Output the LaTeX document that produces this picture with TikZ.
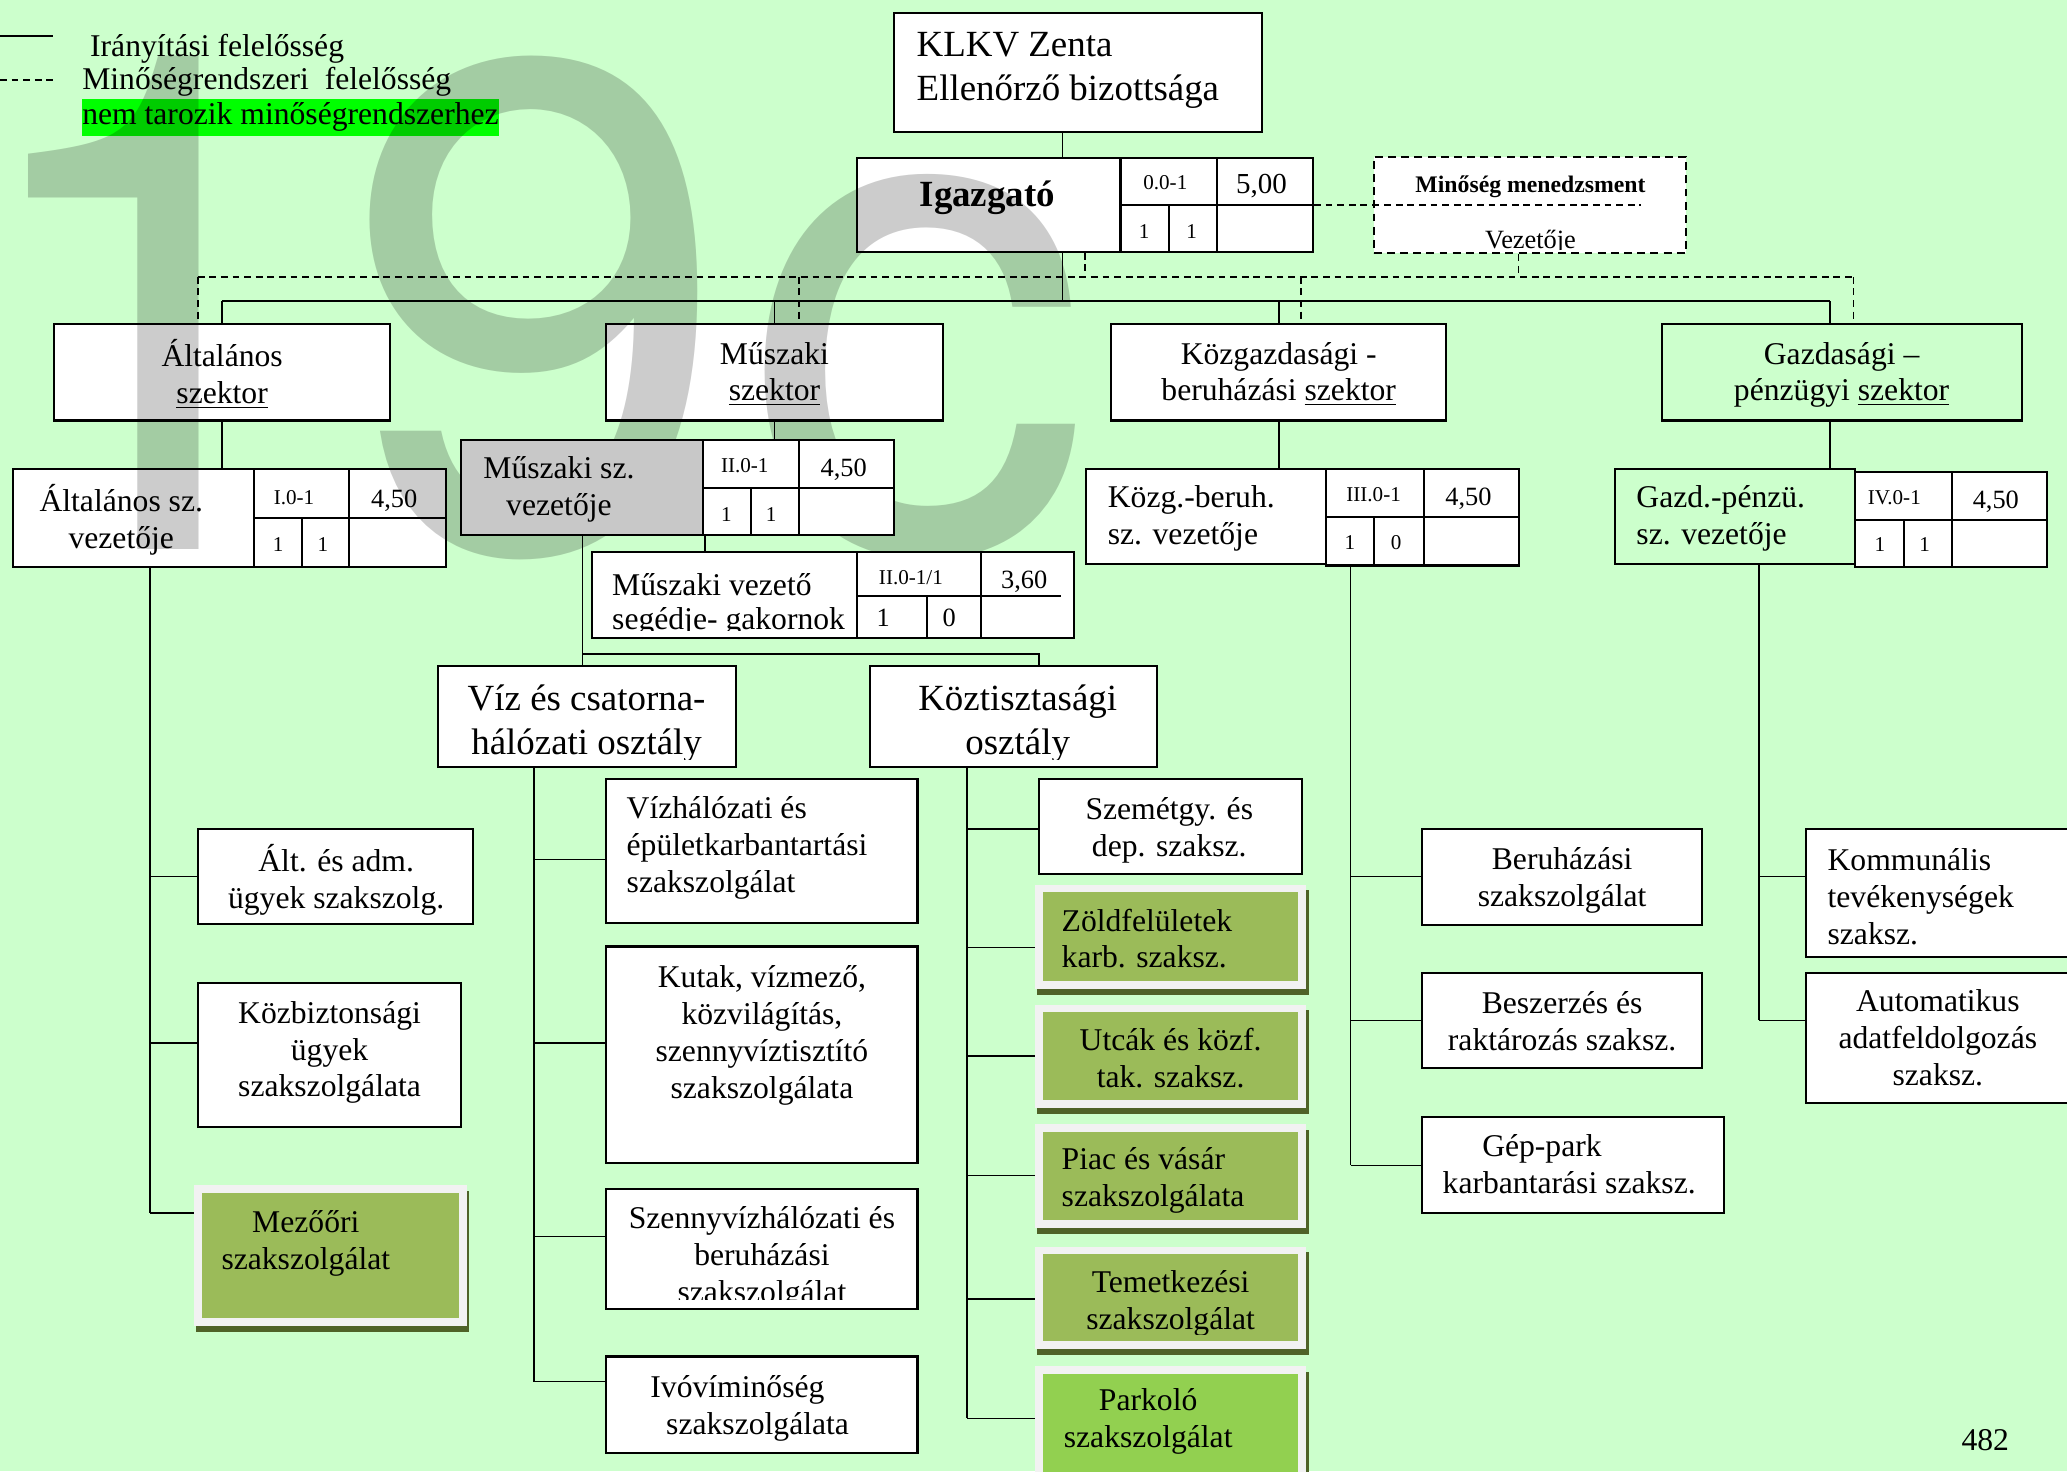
\documentclass[tikz,border=0pt]{standalone}
\usepackage{fontspec}
\setmainfont{Liberation Serif}
\newfontfamily\wmfont{TeX Gyre Heros}
\usetikzlibrary{fit}
\definecolor{cBg}{HTML}{CCFFCC}
\definecolor{cHl}{HTML}{00FF00}
\definecolor{cOlive}{HTML}{9BBB59}
\definecolor{cPark}{HTML}{92D050}
\definecolor{cFrame}{HTML}{F2F2F2}
\definecolor{cShade}{HTML}{4F6228}
\definecolor{cCell}{HTML}{C8C8C8}
\tikzset{
 box/.style={draw, line width=0.8pt, fill=white, inner sep=0pt},
 openbox/.style={draw, line width=0.8pt, inner sep=0pt},
 dbox/.style={draw, line width=0.8pt, fill=white, inner sep=0pt, dash pattern=on 3pt off 2pt},
 gbox/.style={draw=cFrame, line width=3pt, fill=cOlive, inner sep=0pt, preaction={draw=cShade, fill=cShade, transform canvas={shift={(1pt,-2.2pt)}}}},
 ln/.style={line width=0.6pt},
 dl/.style={line width=0.6pt, dash pattern=on 2.6pt off 1.8pt},
 tx/.style={inner sep=0pt, align=center, yshift=-1.5pt, execute at begin node=\strut, execute at end node=\strut},
 t12/.style={tx, font=\fontsize{12}{14}\selectfont},
 t14/.style={tx, font=\fontsize{14}{16.5}\selectfont},
 code/.style={tx, font=\fontsize{8}{9.2}\selectfont},
 val/.style={tx, font=\fontsize{10}{11.5}\selectfont},
}
\begin{document}
\begin{tikzpicture}[x=0.5pt,y=-0.5pt]
\useasboundingbox (0,0) rectangle (1568,1116);
\clip (0,0) rectangle (1568,1116);
\fill[cBg] (0,0) rectangle (1568,1116);

% ---------- legend
\coordinate (lg1a) at (0,27.5); \coordinate (lg1b) at (40.5,27.5);
\coordinate (lg2a) at (0,60.5); \coordinate (lg2b) at (40.5,60.5);
\draw[ln] (lg1a) -- (lg1b);
\draw[dl] (lg2a) -- (lg2b);
\node[t12, anchor=west] (lgt1) at (68,34) {Irányítási felelősség};
\node[t12, anchor=west] (lgt2) at (62,59) {Minőségrendszeri\ \ felelősség};
\node[t12, anchor=west, fill=cHl, yshift=0.6pt] (lgt3) at (62,87) {nem tarozik minőségrendszerhez};

% ---------- named points
\coordinate (topx) at (806,0);
\coordinate (busS) at (0,228.5);
\coordinate (busD) at (0,210);
\coordinate (mx) at (442,496);
\coordinate (vb1) at (405,652); \coordinate (vb2) at (405,791);
\coordinate (vb3) at (405,938); \coordinate (vb4) at (405,1048);
\coordinate (kb1) at (733.5,629); \coordinate (kb2) at (733.5,718.6);
\coordinate (kb3) at (733.5,801); \coordinate (kb4) at (733.5,891.7);
\coordinate (kb5) at (733.5,985.5); \coordinate (kb6) at (733.5,1076);
\coordinate (ab1) at (114,665); \coordinate (ab2) at (114,791); \coordinate (ab3) at (114,920);
\coordinate (cb1) at (1024.5,665); \coordinate (cb2) at (1024.5,774); \coordinate (cb3) at (1024.5,884);
\coordinate (db1) at (1334.5,665); \coordinate (db2) at (1334.5,774);
\coordinate (mdiv) at (1245,155.5);

% ---------- top boxes
\node[box, fit={(678,10) (957,100)}] (klkv) {};
\node[dbox, fit={(1042,119) (1279,192)}] (minoseg) {};
\node[box, fit={(41,246) (296,319)}] (secA) {};
\node[box, fit={(460,246) (715,319)}] (secB) {};
\node[box, fit={(843,246) (1097,319)}] (secC) {};
\node[openbox, fit={(1261,246) (1534,319)}] (secD) {};

% ---------- connectors
\draw[ln] (topx |- klkv.south) -- (topx |- busS);
\draw[ln] (secA.north |- busS) -- ([xshift=-4.75pt]secD.north |- busS);
\draw[ln] (secA.north |- busS) -- (secA.north);
\draw[ln] (secB.north |- busS) -- (secB.north);
\draw[ln] (secC.north |- busS) -- (secC.north);
\draw[ln] ([xshift=-4.75pt]secD.north |- busS) -- ([xshift=-4.75pt]secD.north);
\draw[dl] ([xshift=-9.25pt]secA.north |- busD) -- ([xshift=4.25pt]secD.north |- busD);
\draw[dl] ([xshift=-9.25pt]secA.north |- busD) -- ([xshift=-9.25pt]secA.north);
\draw[dl] ([xshift=9.25pt]secB.north |- busD) -- ([xshift=9.25pt]secB.north);
\draw[dl] ([xshift=8.5pt]secC.north |- busD) -- ([xshift=8.5pt]secC.north);
\draw[dl] ([xshift=4.25pt]secD.north |- busD) -- ([xshift=4.25pt]secD.north);
\draw[dl] ([xshift=-4.25pt]minoseg.south) -- ([xshift=-4.25pt]minoseg.south |- busD);
\draw[dl] (minoseg.west) -- (mdiv);

\node[box, fit={(650,120) (996,191)}] (igaz) {};
\draw[dl] (igaz.south) -- (igaz.south |- busD);
\draw[dl] (igaz.east) -- (minoseg.west);

% leaders
\node[box, fit={(10,356) (193,430)}] (vezA) {};
\node[box, fit={(193,356) (338,430)}] (gridA) {};
\node[fit={(350,334) (533,406)}, inner sep=0pt] (vezBph) {};
\node[box, fit={(824,356) (1006,428)}] (vezC) {};
\node[box, fit={(1006,356) (1152,429)}] (gridC) {};
\node[openbox, fit={(1225,356) (1407,428)}] (vezD) {};
\node[box, fit={(1407,358) (1553,430)}] (gridD) {};

\draw[ln] (secA.south) -- (secA.south |- vezA.north);
\draw[ln] (secB.south) -- (secB.south |- vezBph.north);
\draw[ln] (secC.south) -- (secC.south |- vezC.north);
\draw[ln] ([xshift=-4.75pt]secD.south) -- ([xshift=-4.75pt]secD.south |- vezD.north);

% Muszaki chain
\node[box, fit={(332,505) (558,582)}] (viz) {};
\node[box, fit={(660,505) (878,582)}] (kozt) {};
\draw[ln] (mx |- vezBph.south) -- (mx |- viz.north);
\draw[ln] (mx) -| ([xshift=9.5pt]kozt.north);
\coordinate (sgx) at (535,0);
\draw[ln] (sgx |- vezBph.south) -- (535,419);

% children
\node[box, fit={(460,591) (696,700)}] (v1) {};
\node[box, fit={(460,718) (696,882)}] (v2) {};
\node[box, fit={(460,902) (696,993)}] (v3) {};
\node[box, fit={(460,1029) (696,1102)}] (v4) {};
\draw[ln] (viz.south -| vb1) -- (vb4);
\foreach \b/\n in {vb1/v1, vb2/v2, vb3/v3, vb4/v4} \draw[ln] (\b) -- (\n.west |- \b);

\node[box, fit={(788,591) (988,663)}] (k1) {};
\node[gbox, fit={(788,674) (988,747)}] (k2) {};
\node[gbox, fit={(788,765) (988,837.6)}] (k3) {};
\node[gbox, fit={(788,856) (988,928.6)}] (k4) {};
\node[gbox, fit={(788,948.6) (988,1020.5)}] (k5) {};
\node[gbox, fill=cPark, fit={(788,1039) (988,1127)}] (k6) {};
\draw[ln] (kozt.south -| kb1) -- (kb6);
\foreach \b/\n in {kb1/k1, kb2/k2, kb3/k3, kb4/k4, kb5/k5, kb6/k6} \draw[ln] (\b) -- (\n.west |- \b);

\node[box, fit={(150,629) (359,701)}] (a1) {};
\node[box, fit={(150,746) (350,855)}] (a2) {};
\node[gbox, fit={(150,902) (351,1003)}] (a3) {};
\draw[ln] (vezA.south -| ab1) -- (ab3);
\foreach \b/\n in {ab1/a1, ab2/a2, ab3/a3} \draw[ln] (\b) -- (\n.west |- \b);

\node[box, fit={(1079,629) (1291,702)}] (c1) {};
\node[box, fit={(1079,738) (1291,810)}] (c2) {};
\node[box, fit={(1079,847) (1308,920)}] (c3) {};
\draw[ln] (gridC.south -| cb1) -- (cb3);
\foreach \b/\n in {cb1/c1, cb2/c2, cb3/c3} \draw[ln] (\b) -- (\n.west |- \b);

\node[box, fit={(1370,629) (1590,726)}] (d1) {};
\node[box, fit={(1370,738) (1590,837)}] (d2) {};
\draw[ln] (vezD.south -| db1) -- (db2);
\foreach \b/\n in {db1/d1, db2/d2} \draw[ln] (\b) -- (\n.west |- \b);

% ---------- table dividers
\draw[line width=0.8pt] (850,120) -- (850,191) (850,155.5) -- (996,155.5) (886.5,155.5) -- (886.5,191) (923,120) -- (923,191);
\draw[line width=0.8pt] (193,393) -- (338,393) (229,393) -- (229,430) (265,356) -- (265,430);
\draw[line width=0.8pt] (1006,392) -- (1152,392) (1042.5,392) -- (1042.5,429) (1080,356) -- (1080,429);
\draw[line width=0.8pt] (1407,394.5) -- (1553,394.5) (1444,394.5) -- (1444,430) (1481,358) -- (1481,430);

% ---------- texts
\node[t14, align=left, anchor=west] (klkvt) at (695,52.5) {KLKV Zenta\\Ellenőrző bizottsága};
\node[tx, font=\fontsize{14}{16.5}\selectfont\bfseries] (igazt) at (749,147) {Igazgató};
\node[code] (igc1) at (884,137) {0.0-1};
\node[tx, font=\fontsize{11}{12.6}\selectfont] (igc2) at (957,139) {5,00};
\node[code] (igc3) at (868,174) {1};
\node[code] (igc4) at (904,174) {1};
\node[tx, font=\fontsize{9}{10.4}\selectfont\bfseries] (mmt) at (1161,139) {Minőség menedzsment};
\begin{scope}
\clip (1043,157) rectangle (1278,189);
\node[val] (mvt) at (1161,181) {Vezetője};
\end{scope}

\node[t12] (secAt) at (168.5,283) {Általános\\\underline{szektor}};
\node[t12] (secBt) at (587.5,283) {Műszaki\\\underline{szektor}};
\node[t12] (secCt) at (970,283) {Közgazdasági -\\beruházási \underline{szektor}};
\node[t12] (secDt) at (1397,283) {Gazdasági –\\pénzügyi \underline{szektor}};

\node[t12] (vezAt) at (92,393) {Általános sz.\\vezetője};
\node[code] (ga1) at (223,376) {I.0-1};
\node[val] (ga2) at (299,377) {4,50};
\node[code] (ga3) at (211,412) {1};
\node[code] (ga4) at (245,412) {1};

\node[t12, align=left, anchor=west] (vezCt) at (840,392) {Közg.-beruh.\\sz. vezetője};
\node[code] (gc1) at (1042,374) {III.0-1};
\node[val] (gc2) at (1114,376) {4,50};
\node[code] (gc3) at (1024,410) {1};
\node[code] (gc4) at (1059,410) {0};

\node[t12, align=left, anchor=west] (vezDt) at (1241,392) {Gazd.-pénzü.\\sz. vezetője};
\node[code] (gd1) at (1437,376) {IV.0-1};
\node[val] (gd2) at (1514,378) {4,50};
\node[code] (gd3) at (1426,412) {1};
\node[code] (gd4) at (1460,412) {1};

\begin{scope}
\clip (332,505) rectangle (558,576);
\node[t14] (vizt) at (445,548) {Víz és csatorna-\\hálózati osztály};
\end{scope}
\begin{scope}
\clip (660,505) rectangle (878,576);
\node[t14] (koztt) at (772,548) {Köztisztasági\\osztály};
\end{scope}

\node[t12, align=left, anchor=west] (v1t) at (475,642) {Vízhálózati és\\épületkarbantartási\\szakszolgálat};
\node[t12] (v2t) at (578,784) {Kutak, vízmező,\\közvilágítás,\\szennyvíztisztító\\szakszolgálata};
\begin{scope}
\clip (460,902) rectangle (696,986);
\node[t12] (v3t) at (578,953) {Szennyvízhálózati és\\beruházási\\szakszolgálat};
\end{scope}
\node[t12, align=left, anchor=west] (v4t) at (493,1067) {Ivóvíminőség\\\hspace*{6pt}szakszolgálata};

\node[t12] (k1t) at (887,628.5) {Szemétgy. és\\dep. szaksz.};
\node[t12, align=left, anchor=west] (k2t) at (805,713) {Zöldfelületek\\karb. szaksz.};
\node[t12] (k3t) at (888,803.5) {Utcák és közf.\\tak. szaksz.};
\node[t12, align=left, anchor=west] (k4t) at (805,894) {Piac és vásár\\szakszolgálata};
\begin{scope}
\clip (791,951) rectangle (985,1012);
\node[t12] (k5t) at (888,987) {Temetkezési\\szakszolgálat};
\end{scope}
\node[t12] (k6t) at (871,1077) {Parkoló\\szakszolgálat};

\node[t12] (a1t) at (255,666) {Ált. és adm.\\ügyek szakszolg.};
\node[t12] (a2t) at (250,797) {Közbiztonsági\\ügyek\\szakszolgálata};
\node[t12] (a3t) at (232,942) {Mezőőri\\szakszolgálat};

\node[t12] (c1t) at (1185,666.5) {Beruházási\\szakszolgálat};
\node[t12] (c2t) at (1185,775.5) {Beszerzés és\\raktározás szaksz.};
\node[t12, align=left, anchor=west] (c3t) at (1094,884) {\hspace*{15pt}Gép-park\\karbantarási szaksz.};

\node[t12, align=left, anchor=west] (d1t) at (1386,681) {Kommunális\\tevékenységek\\szaksz.};
\node[t12] (d2t) at (1470,788) {Automatikus\\adatfeldolgozás\\szaksz.};

\node[t12] (pg) at (1506,1092) {482};

% ---------- watermark
\node[inner sep=0pt, anchor=base west, text=black, text opacity=0.2, font=\wmfont\fontsize{264}{264}\selectfont] (wm) at (-32.6,417) {1\kern-0.6pt 9\kern5.3pt c};

% ---------- tables drawn over the watermark
\node[box, fill=cCell, fit={(350,334) (533,406)}] (vezB) {};
\node[box, fit={(533,334) (678,406)}] (gridB) {};
\draw[line width=0.8pt] (533,370) -- (678,370) (569.5,370) -- (569.5,406) (606,334) -- (606,406);
\node[t12] (vezBt) at (424,370) {Műszaki sz.\\vezetője};
\node[code] (gb1) at (565,352) {II.0-1};
\node[val] (gb2) at (640,354) {4,50};
\node[code] (gb3) at (551,389) {1};
\node[code] (gb4) at (585,389) {1};

\node[box, fit={(449,419) (650,484)}] (seg) {};
\node[box, fit={(650,419) (815,484)}] (gridS) {};
\draw[line width=0.8pt] (650,452) -- (805,452) (703.5,452) -- (703.5,484) (744,419) -- (744,484);
\begin{scope}
\clip (449,419) rectangle (650,478);
\node[tx, font=\fontsize{12}{13}\selectfont, align=left, anchor=west] (segt) at (464,457) {Műszaki vezető\\segédje- gakornok};
\end{scope}
\node[code] (gs1) at (691,437) {II.0-1/1};
\node[val] (gs2) at (777,439) {3,60};
\node[val] (gs3) at (670,468) {1};
\node[val] (gs4) at (720,468) {0};
\end{tikzpicture}
\end{document}
